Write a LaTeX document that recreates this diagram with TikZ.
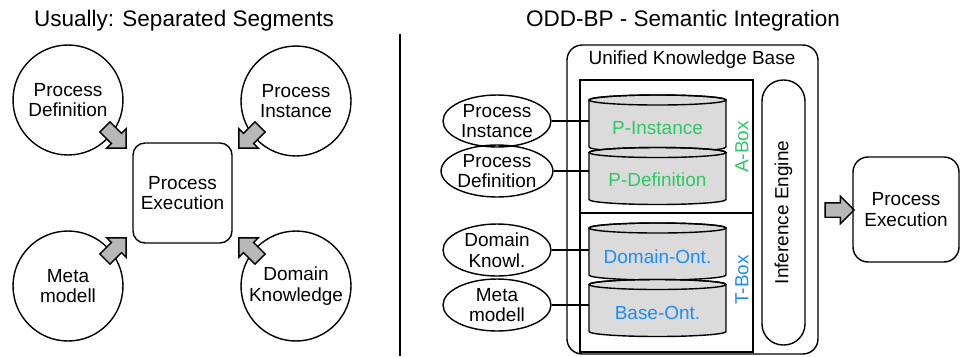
\documentclass[tikz,border=0pt]{standalone}
\usepackage{fontspec}
\setmainfont{Liberation Sans}
\usetikzlibrary{shapes.geometric,shapes.arrows}

\definecolor{aboxgreen}{RGB}{46,200,100}
\definecolor{tboxblue}{RGB}{30,140,245}

\tikzset{
  seg/.style={circle,draw,line width=0.8pt,minimum size=2.2cm,align=center,inner sep=0pt},
  src/.style={ellipse,draw,line width=0.8pt,minimum width=2.16cm,minimum height=1.04cm,align=center,inner sep=0pt},
  exec/.style={rectangle,rounded corners=0.24cm,draw,line width=0.8pt,align=center},
  dbtext/.style={minimum width=2.74cm,inner sep=0pt},
  feed/.style={single arrow,draw,line width=0.8pt,fill=black!28,minimum height=0.6cm,minimum width=0pt,
    single arrow head extend=0.13cm,inner xsep=0pt,inner ysep=0.13cm},
  title/.style={font=\fontsize{12.8}{15}\selectfont},
  pics/drum/.style={code={
    \filldraw[fill=black!14,line width=0.8pt] (-1.37cm,0.47cm) -- (-1.37cm,-0.47cm)
      arc[start angle=180,end angle=360,x radius=1.37cm,y radius=0.1cm] -- (1.37cm,0.47cm)
      arc[start angle=0,end angle=180,x radius=1.37cm,y radius=0.1cm] -- cycle;
    \draw[line width=0.8pt] (0cm,0.47cm) ellipse[x radius=1.37cm,y radius=0.1cm];
  }},
}

\begin{document}
\begin{tikzpicture}[
  x=0.02cm,
  y=-0.02cm,
  font=\fontsize{10.8}{11.8}\selectfont,
]
\useasboundingbox (0,0) rectangle (963,356);

\node[title] (lefttitle) at (184,21) {Usually: Separated Segments};
\node[title] (righttitle) at (683,21) {ODD-BP - Semantic Integration};
\draw[line width=0.8pt] (400,34) -- (400,356);

\node[exec,minimum width=1.98cm,minimum height=2cm] (exec) at (182.5,193) {Process\\Execution};
\node[seg] (pdef) at (68,100) {Process\\Definition};
\node[seg] (pinst) at (296,101) {Process\\Instance};
\node[seg] (meta) at (68,286) {Meta\\modell};
\node[seg] (domain) at (296,286) {Domain\\Knowledge};
\node[feed,rotate=-45] (pdefarrow) at (113,135) {};
\node[feed,rotate=-135] (pinstarrow) at (252,135) {};
\node[feed,rotate=45] (metaarrow) at (113,251) {};
\node[feed,rotate=135] (domainarrow) at (252,251) {};

\node[draw,line width=0.8pt,rounded corners=0.3cm,minimum width=5.02cm,minimum height=6.18cm] (kb) at (692.5,199.5) {};
\node (kbtitle) at (692,60) {Unified Knowledge Base};
\node[draw,line width=0.8pt,minimum width=3.46cm,minimum height=5.44cm] (boxes) at (666.5,216) {};
\draw[line width=0.8pt] (boxes.west |- 0,213) -- (boxes.east |- 0,213);
\node[draw,line width=0.8pt,rounded corners=0.42cm,rotate=90,minimum width=5.3cm,minimum height=0.86cm] (infer) at (783.5,212.5) {Inference Engine};

\pic at (657.5,123.5) {drum};
\node[dbtext,text=aboxgreen] (pinstdb) at (657.5,128) {P-Instance};
\pic at (657.5,176) {drum};
\node[dbtext,text=aboxgreen] (pdefdb) at (657.5,180) {P-Definition};
\pic at (657.5,251.5) {drum};
\node[dbtext,text=tboxblue] (domaindb) at (657.5,257) {Domain-Ont.};
\pic at (657.5,308) {drum};
\node[dbtext,text=tboxblue] (basedb) at (657.5,313) {Base-Ont.};
\node[rotate=90,text=aboxgreen] (abox) at (742,147) {A-Box};
\node[rotate=90,text=tboxblue] (tbox) at (742,280) {T-Box};

\node[src] (srcinst) at (497,121) {Process\\Instance};
\node[src] (srcdef) at (497,171) {Process\\Definition};
\node[src] (srcdomain) at (497,250) {Domain\\Knowl.};
\node[src] (srcmeta) at (497,305) {Meta\\modell};
\draw[line width=0.8pt] (srcinst) -- (srcinst -| pinstdb.west);
\draw[line width=0.8pt] (srcdef) -- (srcdef -| pdefdb.west);
\draw[line width=0.8pt] (srcdomain) -- (srcdomain -| domaindb.west);
\draw[line width=0.8pt] (srcmeta) -- (srcmeta -| basedb.west);

\node[feed,minimum height=0.58cm] (kbarrow) at (836,210) {};
\node[exec,rounded corners=0.3cm,minimum width=2.12cm,minimum height=2.1cm] (exec2) at (906,209.5) {Process\\Execution};
\end{tikzpicture}
\end{document}
